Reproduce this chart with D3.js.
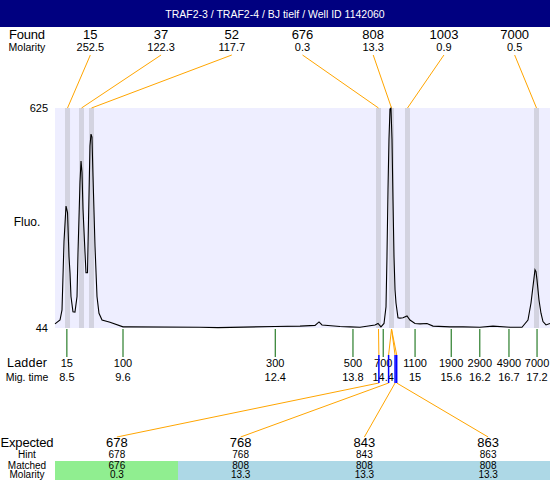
<!DOCTYPE html>
<html>
<head>
<meta charset="utf-8">
<script src="https://cdn.jsdelivr.net/npm/d3@7"></script>
<style>
  body { margin: 0; background: #fff; }
  svg { display: block; font-family: "Liberation Sans", Arial, sans-serif; }
</style>
</head>
<body>
<svg id="chart" width="550" height="480"></svg>
<script>
const title = 'TRAF2-3 / TRAF2-4 / BJ tielf / Well ID 1142060';

// peaks found in the sample
const foundSize = [15, 37, 52, 676, 808, 1003, 7000];
const foundMolarity = ['252.5', '122.3', '117.7', '0.3', '13.3', '0.9', '0.5'];
const foundTime = [8.532, 8.791, 8.976, 14.293, 14.534, 14.830, 17.220];

// ladder
const ladderSize = [15, 100, 300, 500, 700, 1100, 1900, 2900, 4900, 7000];
const ladderTime = [8.52, 9.56, 12.38, 13.82, 14.38, 14.97, 15.64, 16.17, 16.71, 17.23];

// expected fragments
const expectedSize = [678, 768, 843, 863];
const expectedHint = [678, 768, 843, 863];
const expectedTime = [14.30, 14.48, 14.60, 14.63];
const matchedSize = [676, 808, 808, 808];
const matchedMolarity = ['0.3', '13.3', '13.3', '13.3'];

// electropherogram trace (seconds, fluorescence)
const traceTime = [8.300, 8.393, 8.430, 8.467, 8.504, 8.532, 8.559, 8.578, 8.596, 8.633,
  8.670, 8.708, 8.726, 8.763, 8.782, 8.800, 8.819, 8.856, 8.874, 8.902,
  8.921, 8.948, 8.967, 8.985, 9.004, 9.041, 9.078, 9.115, 9.171, 9.319,
  9.560, 9.689, 10.986, 11.320, 12.376, 12.839, 13.117, 13.191, 13.246, 13.580,
  13.765, 13.950, 14.228, 14.284, 14.339, 14.395, 14.432, 14.450, 14.469, 14.487,
  14.506, 14.524, 14.543, 14.561, 14.580, 14.599, 14.617, 14.654, 14.691, 14.747,
  14.821, 14.876, 14.969, 15.062, 15.191, 15.303, 15.617, 15.858, 16.173, 16.414,
  16.729, 16.951, 17.062, 17.118, 17.155, 17.192, 17.211, 17.229, 17.266, 17.303,
  17.340, 17.396, 17.470];
const traceFluo = [55, 65, 92, 273, 366, 349, 233, 190, 127, 87,
  86, 127, 243, 429, 485, 455, 357, 243, 190, 190,
  330, 525, 556, 548, 445, 260, 127, 83, 65, 59,
  47, 47, 46, 45, 48, 49, 51, 60, 52, 48,
  47, 46, 52, 56, 47, 56, 100, 233, 410, 543,
  622, 625, 543, 384, 233, 145, 110, 71, 70, 71,
  76, 65, 56, 55, 56, 49, 47, 47, 46, 49,
  46, 46, 65, 110, 154, 198, 193, 171, 118, 83,
  61, 52, 56];

const yMin = 44, yMax = 625;

const W = 550, H = 480;
const plot = { left: 55, right: 550, top: 108, bottom: 328 };
const orange = '#ffa500';

const svg = d3.select('#chart');

// title bar
svg.append('rect')
  .attr('x', 0).attr('y', 0).attr('width', W).attr('height', 27)
  .attr('fill', '#000080');
svg.append('text')
  .attr('x', W / 2).attr('y', 18)
  .attr('text-anchor', 'middle')
  .attr('fill', '#fff')
  .style('font-size', '10.5px')
  .text(title);

const x = d3.scaleLinear().domain([8.30, 17.47]).range([plot.left, plot.right]);
const y = d3.scaleLinear().domain([yMin, yMax]).range([plot.bottom, plot.top]);

// plot background
svg.append('rect')
  .attr('x', plot.left).attr('y', plot.top)
  .attr('width', plot.right - plot.left).attr('height', plot.bottom - plot.top)
  .attr('fill', '#eeeeff');

// peak bands
svg.append('g').selectAll('rect')
  .data(foundTime)
  .join('rect')
  .attr('x', d => x(d) - 2.5)
  .attr('y', plot.top)
  .attr('width', 5)
  .attr('height', plot.bottom - plot.top)
  .attr('fill', '#d3d3e0');

// trace
const line = d3.line()
  .x((d, i) => x(traceTime[i]))
  .y(d => y(d));
svg.append('path')
  .datum(traceFluo)
  .attr('d', line)
  .attr('fill', 'none')
  .attr('stroke', '#000')
  .attr('stroke-width', 1.1);

// y axis (only end values)
const yAxis = svg.append('g')
  .attr('transform', `translate(${plot.left},0)`)
  .call(d3.axisLeft(y).tickValues([yMin, yMax]).tickSize(0).tickPadding(7));
yAxis.select('.domain').remove();
yAxis.selectAll('text').style('font-size', '11px').attr('fill', '#000')
  .style('font-family', '"Liberation Sans", Arial, sans-serif');

// left labels
const leftLabels = [
  { t: 'Found', y: 39, s: 13, w: 36 },
  { t: 'Molarity', y: 51, s: 10.5 },
  { t: 'Fluo.', y: 226, s: 12 },
  { t: 'Ladder', y: 367, s: 12.5, w: 40 },
  { t: 'Mig. time', y: 381, s: 10.5 },
  { t: 'Expected', y: 446.5, s: 13, w: 53 },
  { t: 'Hint', y: 458, s: 10 },
  { t: 'Matched', y: 468.5, s: 10 },
  { t: 'Molarity', y: 478, s: 10 },
];
svg.append('g').selectAll('text')
  .data(leftLabels)
  .join('text')
  .attr('x', 27)
  .attr('y', d => d.y)
  .attr('text-anchor', 'middle')
  .attr('textLength', d => d.w || null)
  .attr('lengthAdjust', 'spacing')
  .style('font-size', d => d.s + 'px')
  .text(d => d.t);

// found labels
const foundCol = d3.scaleBand().domain(d3.range(foundSize.length)).range([plot.left, plot.right]);
const fc = i => foundCol(i) + foundCol.bandwidth() / 2;

svg.append('g').selectAll('line')
  .data(foundTime)
  .join('line')
  .attr('x1', (d, i) => fc(i)).attr('y1', 55)
  .attr('x2', d => x(d)).attr('y2', plot.top)
  .attr('stroke', orange).attr('stroke-width', 1);

svg.append('g').selectAll('text')
  .data(foundSize)
  .join('text')
  .attr('x', (d, i) => fc(i)).attr('y', 39)
  .attr('text-anchor', 'middle')
  .style('font-size', '13px')
  .text(d => d);
svg.append('g').selectAll('text')
  .data(foundMolarity)
  .join('text')
  .attr('x', (d, i) => fc(i)).attr('y', 51)
  .attr('text-anchor', 'middle')
  .style('font-size', '11px')
  .text(d => d);

// ladder ticks and labels
svg.append('g').selectAll('line')
  .data(ladderTime)
  .join('line')
  .attr('x1', d => x(d)).attr('x2', d => x(d))
  .attr('y1', plot.bottom + 1).attr('y2', 357)
  .attr('stroke', '#006400').attr('stroke-width', 1);
svg.append('g').selectAll('text')
  .data(ladderSize)
  .join('text')
  .attr('x', (d, i) => x(ladderTime[i])).attr('y', 367)
  .attr('text-anchor', 'middle')
  .style('font-size', '11px')
  .text(d => d);
svg.append('g').selectAll('text')
  .data(ladderTime)
  .join('text')
  .attr('x', d => x(d)).attr('y', 381)
  .attr('text-anchor', 'middle')
  .style('font-size', '11px')
  .text(d => String(+d.toFixed(1)));

// expected table
const expCol = d3.scaleBand().domain(d3.range(expectedSize.length)).range([plot.left, plot.right]);
const ec = i => expCol(i) + expCol.bandwidth() / 2;

svg.append('g').selectAll('rect')
  .data(matchedSize)
  .join('rect')
  .attr('x', (d, i) => Math.floor(expCol(i)))
  .attr('y', 461)
  .attr('width', expCol.bandwidth() + 1)
  .attr('height', H - 461)
  .attr('shape-rendering', 'crispEdges')
  .attr('fill', (d, i) => Math.abs(d - expectedSize[i]) / expectedSize[i] < 0.02 ? '#90ee90' : '#add8e6');

const rows = [
  { vals: expectedSize, y: 446.5, s: 13 },
  { vals: expectedHint, y: 458, s: 10 },
  { vals: matchedSize, y: 468.5, s: 10 },
  { vals: matchedMolarity, y: 478, s: 10 },
];
rows.forEach(r => {
  svg.append('g').selectAll('text')
    .data(r.vals)
    .join('text')
    .attr('x', (d, i) => ec(i)).attr('y', r.y)
    .attr('text-anchor', 'middle')
    .style('font-size', r.s + 'px')
    .text(d => d);
});

// matching lines
const links = svg.append('g');
expectedTime.forEach((t, i) => {
  const peak = foundTime[foundSize.indexOf(matchedSize[i])];
  links.append('line')
    .attr('x1', x(peak)).attr('y1', plot.bottom + 1)
    .attr('x2', x(t)).attr('y2', 355)
    .attr('stroke', orange);
  links.append('line')
    .attr('x1', x(t)).attr('y1', 383)
    .attr('x2', ec(i)).attr('y2', 437)
    .attr('stroke', orange);
  links.append('line')
    .attr('x1', x(t)).attr('y1', 355)
    .attr('x2', x(t)).attr('y2', 383)
    .attr('stroke', '#0000ff').attr('stroke-width', 1.5);
});
</script>
</body>
</html>
